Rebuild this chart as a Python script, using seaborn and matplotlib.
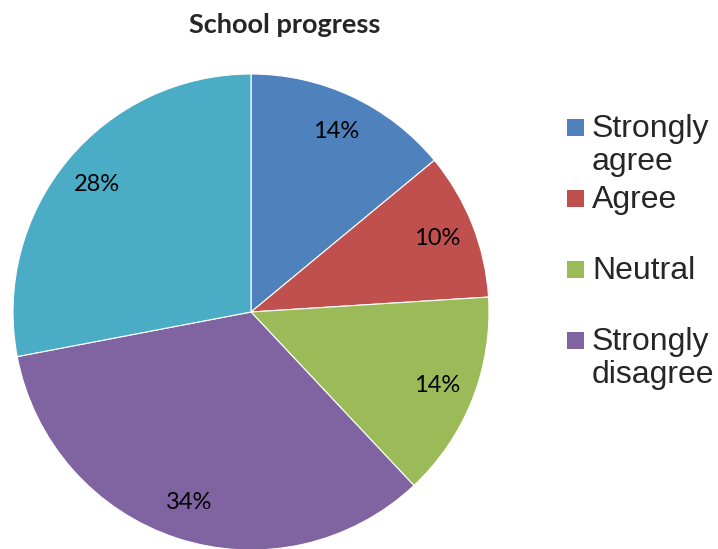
import matplotlib
matplotlib.use("Agg")
import matplotlib.pyplot as plt
from matplotlib.patches import Rectangle
import seaborn as sns

# Survey responses (percent of respondents)
categories = ["Strongly agree", "Agree", "Neutral", "Strongly disagree", "Disagree"]
shares = [14, 10, 14, 34, 28]
legend_labels = ["Strongly\nagree", "Agree", "Neutral", "Strongly\ndisagree"]
title = "School progress"

colors = ["#4F81BD", "#C0504D", "#9BBB59", "#8064A2", "#4BACC6"]

sns.set_style("white")

W, H = 718, 549
fig = plt.figure(figsize=(W / 100, H / 100), dpi=100)

# pie centre and radius in pixels
cx, cy, r = 251, 312, 238
ax = fig.add_axes([(cx - r) / W, (H - cy - r) / H, 2 * r / W, 2 * r / H])
wedges, _, autotexts = ax.pie(
    shares,
    colors=colors,
    startangle=90,
    counterclock=False,
    radius=1,
    autopct=lambda p: f"{p:.0f}%",
    pctdistance=0.84,
    wedgeprops=dict(edgecolor="white", linewidth=0.8),
    textprops=dict(fontsize=17, family="Lato", color="black"),
)
ax.set_xlim(-1, 1)
ax.set_ylim(-1, 1)
ax.set_axis_off()

fig.text(285 / W, 1 - 25 / H, title, ha="center", va="center",
         fontsize=19.5, fontweight="bold", family="Lato")

# legend, one slot per category
for i, lab in enumerate(legend_labels):
    yc = 127 + 71 * i
    fig.patches.append(Rectangle((567 / W, 1 - (yc + 8.5) / H), 17 / W, 17 / H,
                                 transform=fig.transFigure, facecolor=colors[i],
                                 edgecolor="none"))
    fig.text(592 / W, 1 - (yc - 13) / H, lab, ha="left", va="top",
             fontsize=23, family="Liberation Sans", linespacing=1.12)

fig.savefig("out.png", dpi=100)
